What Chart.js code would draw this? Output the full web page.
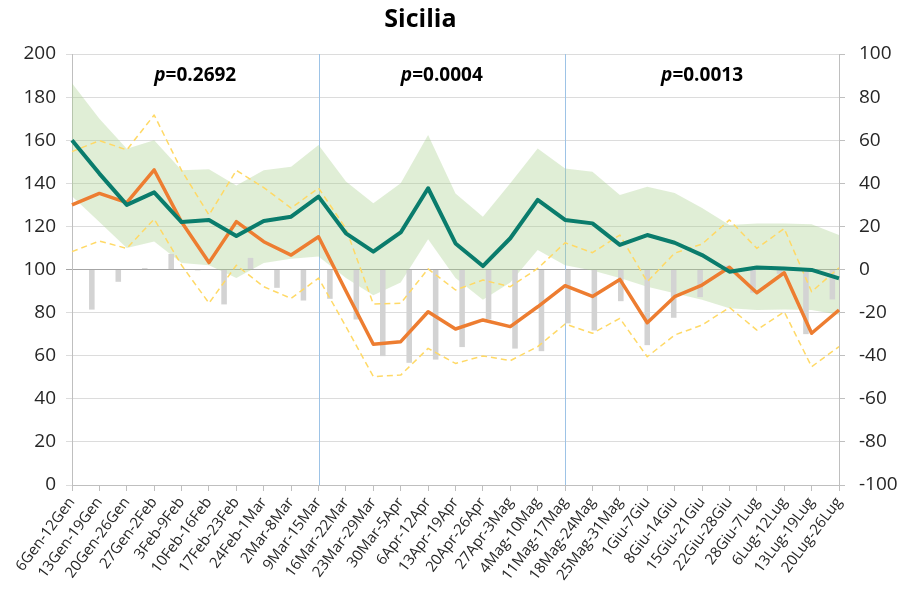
<!DOCTYPE html>
<html>
<head>
<meta charset="utf-8">
<script src="https://cdn.jsdelivr.net/npm/chart.js@4"></script>
<style>
  html, body { margin: 0; padding: 0; background: #fff; }
</style>
</head>
<body>
<canvas id="siciliaChart" width="914" height="592"></canvas>
<script>
"use strict";

const weeks = [
  "6Gen-12Gen", "13Gen-19Gen", "20Gen-26Gen", "27Gen-2Feb", "3Feb-9Feb",
  "10Feb-16Feb", "17Feb-23Feb", "24Feb-1Mar", "2Mar-8Mar", "9Mar-15Mar",
  "16Mar-22Mar", "23Mar-29Mar", "30Mar-5Apr", "6Apr-12Apr", "13Apr-19Apr",
  "20Apr-26Apr", "27Apr-3Mag", "4Mag-10Mag", "11Mag-17Mag", "18Mag-24Mag",
  "25Mag-31Mag", "1Giu-7Giu", "8Giu-14Giu", "15Giu-21Giu", "22Giu-28Giu",
  "28Giu-7Lug", "6Lug-12Lug", "13Lug-19Lug", "20Lug-26Lug",
];

// expected deaths (teal) and its green band
const expected = [160, 144.5, 130, 135.8, 122, 123, 115.5, 122.5, 124.5, 133.8,
  116.8, 108.3, 117.2, 137.7, 112.1, 101.6, 114.5, 132.3, 123, 121.4,
  111.4, 116, 112.4, 106.7, 99, 100.9, 100.5, 99.8, 95.9];
const expectedHigh = [186.4, 170, 156, 160, 146, 146.5, 139, 146, 147.7, 157.8,
  140.8, 130.7, 140, 162.4, 135.3, 124.5, 140, 156.2, 146.9, 145.4,
  134.6, 138.4, 135.5, 128.5, 120.6, 121.4, 121.4, 121, 116];
const expectedLow = [134, 122, 110, 113, 103, 102, 96, 103, 105, 106,
  96, 88, 94, 114, 96, 86, 94, 109, 102, 99.5,
  96, 92, 89, 86, 82, 81.2, 81.4, 81.2, 79];

// observed 2020 (orange) with its dashed limits
const observed = [130, 135.3, 131, 146.2, 122, 103.2, 122.2, 112.9, 106.7, 115.2,
  90, 65.3, 66.5, 80.4, 72.4, 76.6, 73.5, 82.7, 92.5, 87.5,
  95.4, 75.3, 87.4, 92.8, 101, 89.2, 98.5, 70.4, 81.2];
const observedHigh = [154.7, 159.8, 155.5, 171.7, 146, 125.3, 146, 138, 128.5, 137.8,
  119, 84, 84.3, 100.3, 90.5, 95.1, 92, 100.5, 112.4, 107.8,
  116, 94.3, 107.6, 111.8, 123, 109.8, 119, 89.7, 100.8];
const observedLow = [108.3, 113.2, 109.8, 123.4, 102, 84.4, 102, 92, 86.6, 96,
  73.5, 50.3, 51, 63.4, 56.4, 59.9, 57.7, 64.2, 74.7, 70.4,
  77.3, 59.5, 69.6, 74.2, 82.4, 71.9, 80.4, 54.9, 64.2];

// % difference, right axis
const diffPct = [-18.6, -5.7, 0.6, 7.2, -0.4, -16.2, 5.4, -8.5, -14.4, -13.6,
  -23.2, -40.2, -43.3, -41.8, -36, -23.2, -36.7, -37.9, -25, -28.3,
  -14.7, -35.1, -22.4, -12.8, 1.8, -10.8, -2, -30, -13.9];

const splitAt = [9, 18];
const pValues = ["0.2692", "0.0004", "0.0013"];

const FONT = "'Open Sans', 'DejaVu Sans', sans-serif";
const TEXT = "#262626";

const periodMarks = {
  id: "periodMarks",
  beforeDatasetsDraw(chart) {
    const { ctx, chartArea, scales } = chart;
    ctx.save();
    ctx.strokeStyle = "#9dc3e6";
    ctx.lineWidth = 1;
    splitAt.forEach(i => {
      const x = Math.round(scales.x.getPixelForValue(i)) + 0.5;
      ctx.beginPath();
      ctx.moveTo(x, chartArea.top);
      ctx.lineTo(x, chartArea.bottom);
      ctx.stroke();
    });
    ctx.restore();
  },
  afterDraw(chart) {
    const { ctx, chartArea, scales } = chart;
    const bounds = [0, ...splitAt, weeks.length - 1];
    ctx.save();
    ctx.fillStyle = "#000";
    ctx.textBaseline = "middle";
    ctx.textAlign = "left";
    pValues.forEach((p, k) => {
      const cx = (scales.x.getPixelForValue(bounds[k]) + scales.x.getPixelForValue(bounds[k + 1])) / 2;
      const y = chartArea.top + 22;
      const italic = "italic bold 19px " + FONT;
      const bold = "bold 19px " + FONT;
      ctx.font = italic;
      const w1 = ctx.measureText("p").width;
      ctx.font = bold;
      const w2 = ctx.measureText("=" + p).width;
      const x0 = cx - (w1 + w2) / 2;
      ctx.font = italic;
      ctx.fillText("p", x0, y);
      ctx.font = bold;
      ctx.fillText("=" + p, x0 + w1, y);
    });
    // title
    ctx.font = "bold 25px " + FONT;
    ctx.textAlign = "center";
    ctx.fillText("Sicilia", chart.width * 0.46, 20);
    ctx.restore();
  },
};

function lineSet(data, color, width, order, dash) {
  return {
    type: "line",
    data: data,
    xAxisID: "x",
    yAxisID: "y",
    borderColor: color,
    borderWidth: width,
    borderDash: dash || [],
    borderJoinStyle: "round",
    pointRadius: 0,
    tension: 0,
    fill: false,
    order: order,
  };
}

const ctx = document.getElementById("siciliaChart").getContext("2d");
const _ = new Chart(ctx, {
  data: {
    labels: weeks,
    datasets: [
      { ...lineSet(expectedLow, "rgba(0,0,0,0)", 0, 6) },
      { ...lineSet(expectedHigh, "rgba(0,0,0,0)", 0, 6), fill: "-1", backgroundColor: "rgba(169,209,142,0.36)" },
      {
        type: "bar",
        data: diffPct,
        xAxisID: "x2",
        yAxisID: "y2",
        backgroundColor: "#d3d3d3",
        barPercentage: 0.42,
        categoryPercentage: 1,
        order: 5,
      },
      lineSet(observedHigh, "#ffd966", 1.5, 4, [6, 4]),
      lineSet(observedLow, "#ffd966", 1.5, 4, [6, 4]),
      lineSet(observed, "#ed7d31", 3.5, 2),
      lineSet(expected, "#0a7c6c", 4, 1),
    ],
  },
  options: {
    responsive: false,
    animation: false,
    devicePixelRatio: 1,
    layout: { padding: { top: 54, left: 0, right: 0, bottom: 0 } },
    plugins: {
      legend: { display: false },
      tooltip: { enabled: false },
    },
    scales: {
      x: {
        type: "category",
        offset: false,
        grid: { drawOnChartArea: false, drawTicks: true, tickLength: 6, color: "#bfbfbf" },
        border: { color: "#bfbfbf" },
        ticks: {
          autoSkip: false,
          minRotation: 53,
          maxRotation: 53,
          padding: 3,
          color: TEXT,
          font: { family: FONT, size: 15 },
        },
        afterFit(scale) { scale.height = 107; },
      },
      x2: {
        type: "category",
        offset: true,
        display: false,
      },
      y: {
        min: 0,
        max: 200,
        ticks: { stepSize: 20, padding: 10, color: TEXT, font: { family: FONT, size: 19 } },
        grid: {
          tickLength: 6,
          color: c => (c.tick && c.tick.value === 100 ? "#a6a6a6" : "#dcdcdc"),
        },
        border: { color: "#bfbfbf" },
        afterFit(scale) { scale.width = 72; },
      },
      y2: {
        position: "right",
        min: -100,
        max: 100,
        ticks: { stepSize: 20, padding: 14, color: TEXT, font: { family: FONT, size: 19 } },
        grid: { drawOnChartArea: false, tickLength: 6, color: "#bfbfbf" },
        border: { color: "#bfbfbf" },
        afterFit(scale) { scale.width = 75; },
      },
    },
  },
  plugins: [periodMarks],
});
</script>
</body>
</html>
